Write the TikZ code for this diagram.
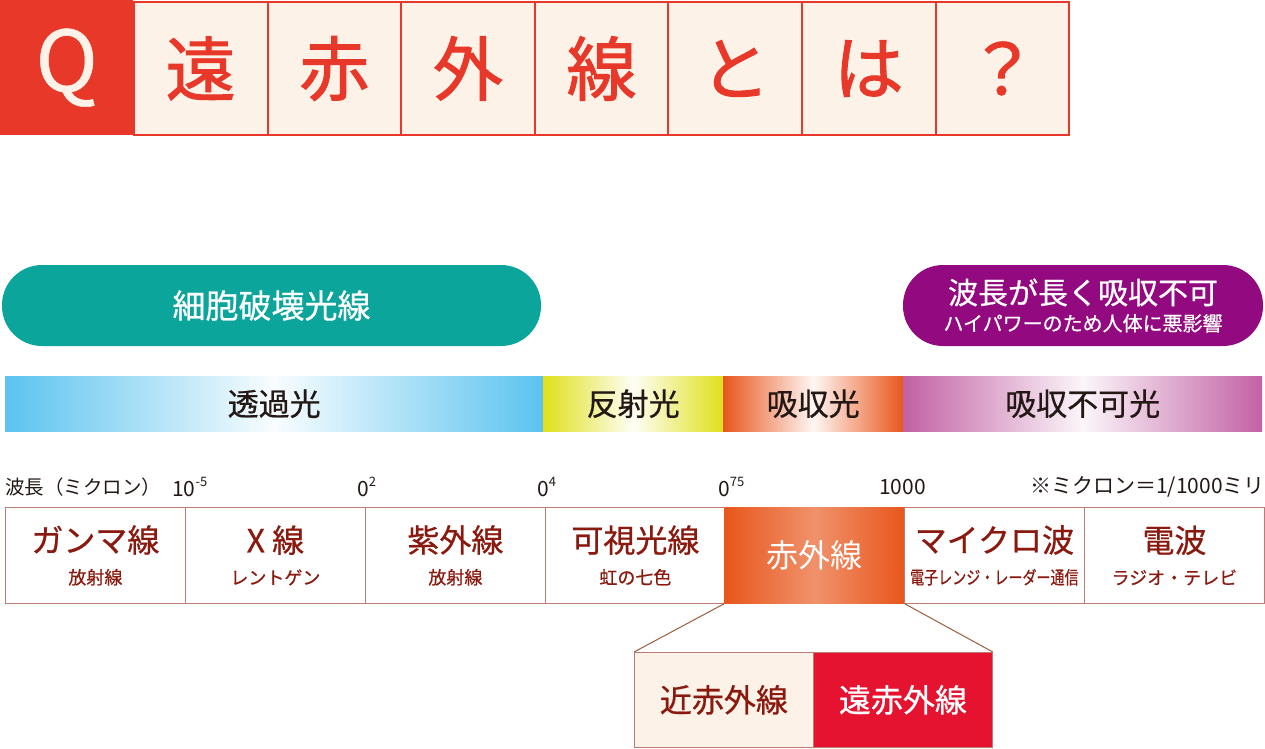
\documentclass[tikz,border=0pt]{standalone}
\usepackage{fontspec}
\setmainfont{Noto Sans CJK JP}
\newfontfamily\medfont{Noto Sans CJK JP}[FakeBold=0.6]
\newfontfamily\headfont{Noto Sans CJK JP}[FakeBold=1.4]
\newcommand\fsz[1]{\fontsize{#1}{#1}\selectfont}
\newcommand\pw[1]{\raisebox{0.5em}{\fsz{13}#1}}
\definecolor{qred}{HTML}{E8382A}
\definecolor{cream}{HTML}{FDF2E7}
\definecolor{teal}{HTML}{0CA59B}
\definecolor{purp}{HTML}{930A80}
\definecolor{sky}{HTML}{5BC3EF}
\definecolor{lemon}{HTML}{DFE01A}
\definecolor{orng}{HTML}{E8561C}
\definecolor{mag}{HTML}{C261A4}
\definecolor{ink}{HTML}{231815}
\definecolor{wred}{HTML}{8A1A0F}
\definecolor{boxline}{HTML}{BC7B74}
\definecolor{farred}{HTML}{E51330}
\definecolor{conn}{HTML}{9B5C3D}

\begin{document}
\begin{tikzpicture}[x=1pt,y=-1pt,hcell/.style={draw=qred,line width=2pt,fill=cream,minimum width=133.5pt,minimum height=133pt,anchor=north west,inner sep=0pt,text=qred,font=\headfont\fsz{70}},pill/.style={rounded corners=40pt,minimum height=81pt,text=white,align=center,inner sep=0pt},band/.style={minimum height=55pt,anchor=north west,inner sep=0pt,font=\medfont\fsz{31},text=ink},tick/.style={font=\fsz{21},text=ink,anchor=west,inner sep=0pt},wave/.style={draw=boxline,line width=0.8pt,fill=white,minimum width=180pt,minimum height=96pt,anchor=north west,inner sep=0pt,align=center,text=wred,font=\medfont\fsz{32}},sub/.style={font=\fsz{18}}]
  \useasboundingbox (0,0) rectangle (1265,748);
  % title row
  \node[fill=qred,minimum width=133pt,minimum height=135pt,anchor=north west,inner sep=0pt,text=cream,font=\medfont\fsz{84}] (q) at (0,0) {Q};
  \foreach \c [count=\i] in {遠,赤,外,線,と,は,？}
    \node[hcell] (h\i) at ({133+(\i-1)*133.6},1) {\c};
  % effect pills
  \node[pill,fill=teal,minimum width=539pt,font=\medfont\fsz{33}] (cell) at (271.5,305.5) {細胞破壊光線};
  \node[pill,fill=purp,minimum width=360pt,font=\medfont\fsz{30}] (long) at (1083,305.5) {波長が長く吸収不可\\[-3pt]{\fsz{20}ハイパワーのため人体に悪影響}};
  % light behaviour band
  \node[band,left color=sky,right color=sky,middle color=sky!4,minimum width=538pt] (trans) at (5,376) {透過光};
  \node[band,left color=lemon,right color=lemon,middle color=lemon!4,minimum width=180pt] (refl) at (543,376) {反射光};
  \node[band,left color=orng,right color=orng,middle color=orng!5,minimum width=180pt] (absb) at (723,376) {吸収光};
  \node[band,left color=mag,right color=mag,middle color=mag!6,minimum width=359pt] (noabs) at (903,376) {吸収不可光};
  % wavelength scale
  \node[tick,font=\fsz{19.5}] (wl) at (5,487) {波長（ミクロン）};
  \node[tick] (t1) at (172,487) {10\pw{-5}};
  \node[tick] (t2) at (357,487) {0\pw{2}};
  \node[tick] (t3) at (537,487) {0\pw{4}};
  \node[tick] (t4) at (718,487) {0\pw{75}};
  \node[tick] (t5) at (879,487) {1000};
  \node[tick,anchor=east] (unit) at (1265,487) {※ミクロン＝1/1000ミリ};
  % spectrum boxes
  \node[wave] (gamma) at (5,507) {ガンマ線\\{\fsz{18}放射線}};
  \node[wave] (xray) at (185,507) {X 線\\{\fsz{18}レントゲン}};
  \node[wave] (uv) at (365,507) {紫外線\\{\fsz{18}放射線}};
  \node[wave] (vis) at (545,507) {可視光線\\{\fsz{18}虹の七色}};
  \node[wave,draw=none,left color=orng,right color=orng,middle color=orng!65!white,text=white,minimum width=180pt,font=\fsz{32}] (ir) at (724,507) {赤外線};
  \node[wave] (micro) at (904,507) {マイクロ波\\{\fsz{18}\scalebox{0.78}[1]{電子レンジ・レーダー通信}}};
  \node[wave] (radio) at (1084,507) {電波\\{\fsz{18}ラジオ・テレビ}};
  % infrared split
  \node[wave,fill=cream,minimum width=179pt,minimum height=95pt] (near) at (634,652) {近赤外線};
  \node[wave,fill=farred,text=white,minimum width=179pt,minimum height=95pt] (far) at (813,652) {遠赤外線};
  \draw[conn,line width=1pt] (ir.south west) -- (near.north west);
  \draw[conn,line width=1pt] (ir.south east) -- (far.north east);
\end{tikzpicture}
\end{document}
